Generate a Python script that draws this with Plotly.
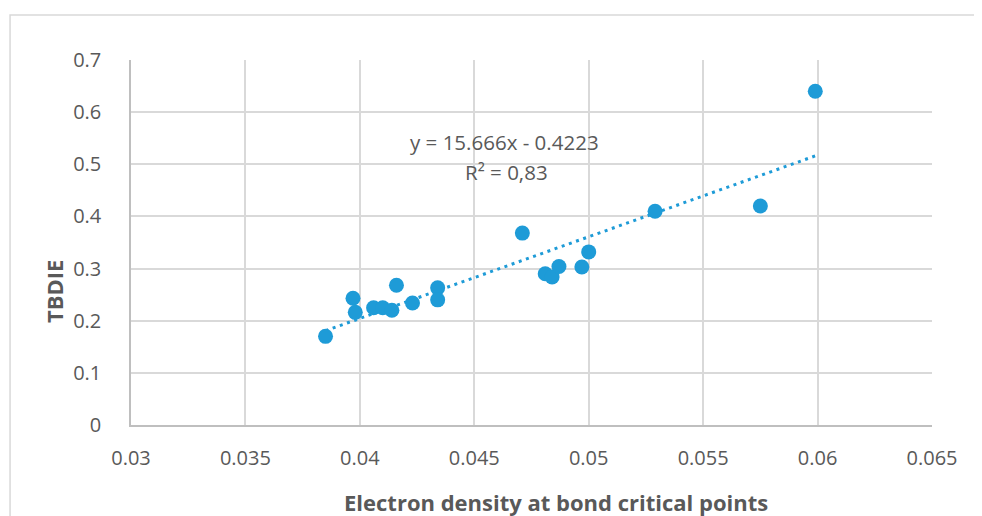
import plotly.graph_objects as go

# Data
density = [0.0385, 0.0397, 0.0398, 0.0406, 0.0410, 0.0414, 0.0416, 0.0423,
           0.0434, 0.0434, 0.0471, 0.0481, 0.0484, 0.0487, 0.0497, 0.0500,
           0.0529, 0.0575, 0.0599]
tbdie = [0.170, 0.243, 0.216, 0.225, 0.225, 0.220, 0.268, 0.234,
         0.263, 0.240, 0.368, 0.290, 0.284, 0.304, 0.303, 0.332,
         0.410, 0.420, 0.640]

slope = 15.666
intercept = -0.4223
eq_text = "y = 15.666x - 0.4223"
r2_text = "R² = 0,83"
x_ticks = [0.03, 0.035, 0.04, 0.045, 0.05, 0.055, 0.06, 0.065]
y_ticks = [0, 0.1, 0.2, 0.3, 0.4, 0.5, 0.6, 0.7]

trend_x = [min(density), max(density)]
trend_y = [slope * v + intercept for v in trend_x]

BLUE = "#1e9bd7"
GRID = "#d9d9d9"
TXT = "#595959"
FONT = "Open Sans"

fig = go.Figure()
fig.add_trace(go.Scatter(x=trend_x, y=trend_y, mode="lines",
                         line=dict(color=BLUE, width=3, dash="3px,4.6px"),
                         hoverinfo="skip", showlegend=False))
fig.add_trace(go.Scatter(x=density, y=tbdie, mode="markers",
                         marker=dict(color=BLUE, size=15, line=dict(width=0)),
                         showlegend=False))

fig.update_layout(
    width=974, height=508,
    margin=dict(l=123, r=50, t=52, b=91),
    paper_bgcolor="white", plot_bgcolor="white",
    font=dict(family=FONT, color=TXT, size=20),
    xaxis=dict(range=[0.03, 0.065], tickvals=x_ticks,
               ticktext=[f"{v:g}" for v in x_ticks],
               showgrid=True, gridcolor=GRID, gridwidth=1.5,
               showline=True, linecolor="#bfbfbf", linewidth=1.5,
               zeroline=False, ticks="", ticklabelstandoff=14,
               tickfont=dict(size=20, color=TXT, family=FONT)),
    yaxis=dict(range=[0, 0.7], tickvals=y_ticks,
               ticktext=[f"{v:g}" for v in y_ticks],
               showgrid=True, gridcolor=GRID, gridwidth=1.5,
               showline=True, linecolor="#bfbfbf", linewidth=1.5,
               zeroline=False, ticks="", ticklabelstandoff=24,
               tickfont=dict(size=20, color=TXT, family=FONT)),
    shapes=[dict(type="rect", xref="paper", yref="paper",
                 x0=-0.1510, x1=1.08, y0=-0.30, y1=1.1233,
                 line=dict(color=GRID, width=1.5), layer="below")],
    annotations=[
        dict(text="<b>Electron density at bond critical points</b>",
             xref="paper", yref="paper", x=0.5306, y=-0.211,
             xanchor="center", yanchor="middle", showarrow=False,
             font=dict(size=22, color=TXT, family=FONT)),
        dict(text="<b>TBDIE</b>", xref="paper", yref="paper",
             x=-0.0961, y=0.3644, textangle=-90,
             xanchor="center", yanchor="middle", showarrow=False,
             font=dict(size=22, color=TXT, family=FONT)),
        dict(text=eq_text, x=0.04633, y=0.5428, xref="x", yref="y",
             xanchor="center", yanchor="middle", showarrow=False,
             font=dict(size=20.5, color=TXT, family=FONT)),
        dict(text=r2_text, x=0.04642, y=0.4852, xref="x", yref="y",
             xanchor="center", yanchor="middle", showarrow=False,
             font=dict(size=20.5, color=TXT, family=FONT)),
    ],
)

fig.write_html("out.html")
